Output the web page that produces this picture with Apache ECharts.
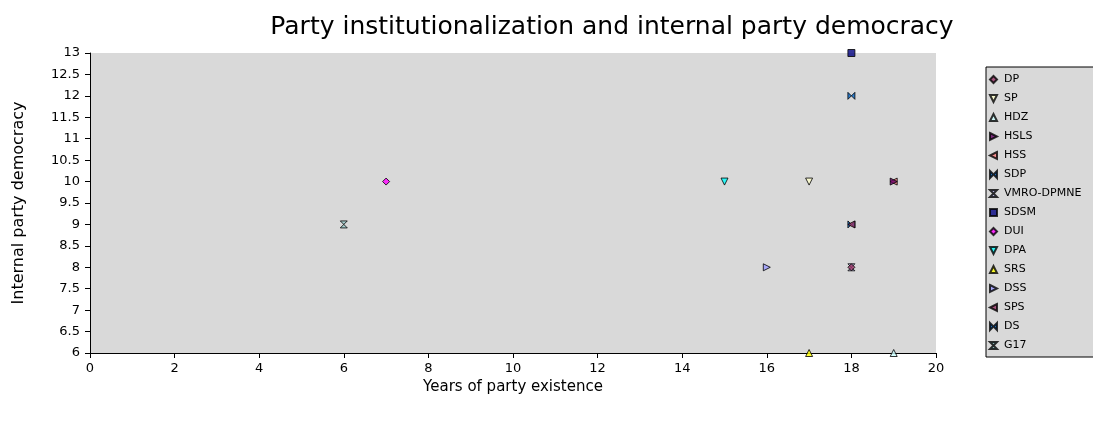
<!DOCTYPE html>
<html>
<head>
<meta charset="utf-8">
<script src="https://cdn.jsdelivr.net/npm/echarts@6/dist/echarts.min.js"></script>
<style>
html,body{margin:0;padding:0;background:#fff;}
#chart{width:1093px;height:425px;}
</style>
</head>
<body>
<div id="chart"></div>
<script>
// Data
var parties   = ['DP','SP','HDZ','HSLS','HSS','SDP','VMRO-DPMNE','SDSM','DUI','DPA','SRS','DSS','SPS','DS','G17'];
var years     = [18, 17, 19, 19, 19, 18, 18, 18, 7, 15, 17, 16, 18, 18, 6];
var democracy = [8, 10, 6, 10, 10, 12, 8, 13, 10, 10, 6, 8, 9, 9, 9];
var xTicks = [0, 2, 4, 6, 8, 10, 12, 14, 16, 18, 20];
var yTicks = [6, 6.5, 7, 7.5, 8, 8.5, 9, 9.5, 10, 10.5, 11, 11.5, 12, 12.5, 13];

// Styles
var FONT = 'DejaVu Sans, Verdana, sans-serif';
var P_DOWN = 'path://M0,0L10,0L5,10Z';
var P_UP = 'path://M0,10L5,0L10,10Z';
var P_RIGHT = 'path://M0,0L10,5L0,10Z';
var P_LEFT = 'path://M10,0L0,5L10,10Z';
var P_BOW = 'path://M0,0L5,5L0,10ZM10,0L5,5L10,10Z';
var P_HOUR = 'path://M0,0L10,0L5,5ZM0,10L10,10L5,5Z';
var symbols = ['diamond', P_DOWN, P_UP, P_RIGHT, P_LEFT, P_BOW, P_HOUR, 'rect', 'diamond', P_DOWN, P_UP, P_RIGHT, P_LEFT, P_BOW, P_HOUR];
var colors = ['#993366','#FFFFCC','#CCFFFF','#660066','#FF8080','#0066CC','#CCCCFF','#000080','#FF00FF','#00FFFF','#FFFF00','#9999FF','#993366','#0066CC','#99CCCC'];
var zs = [5, 3, 3, 5, 3, 3, 3, 3, 3, 3, 3, 3, 5, 3, 3];

var series = parties.map(function(name, i){
  return {
    name: name,
    type: 'scatter',
    symbol: symbols[i],
    symbolSize: 7,
    itemStyle: {color: colors[i], borderColor: '#000', borderWidth: 1},
    data: [[years[i], democracy[i]]],
    z: zs[i]
  };
});

var chart = echarts.init(document.getElementById('chart'));
chart.setOption({
  animation: false,
  title: {
    text: 'Party institutionalization and internal party democracy',
    left: 607, top: 10, textAlign: 'center',
    textStyle: {fontFamily: FONT, fontSize: 25, fontWeight: 'normal', color: '#000'}
  },
  grid: {left: 90, right: 157, top: 53, bottom: 72, show: true, backgroundColor: '#d9d9d9', borderWidth: 0},
  xAxis: {
    type: 'value', min: xTicks[0], max: xTicks[xTicks.length-1], interval: 2,
    name: 'Years of party existence', nameLocation: 'middle', nameGap: 20,
    nameTextStyle: {fontFamily: FONT, fontSize: 15, color: '#000'},
    axisLine: {show: true, onZero: false, lineStyle: {color: '#000', width: 1}},
    axisTick: {show: true, length: 5, lineStyle: {color: '#000'}},
    axisLabel: {fontFamily: FONT, fontSize: 13, color: '#000', margin: 9},
    splitLine: {show: false}
  },
  yAxis: {
    type: 'value', min: yTicks[0], max: yTicks[yTicks.length-1], interval: 0.5,
    name: 'Internal party democracy', nameLocation: 'middle', nameGap: 63, nameRotate: 90,
    nameTextStyle: {fontFamily: FONT, fontSize: 16, color: '#000'},
    axisLine: {show: true, onZero: false, lineStyle: {color: '#000', width: 1}},
    axisTick: {show: true, length: 5, lineStyle: {color: '#000'}},
    axisLabel: {fontFamily: FONT, fontSize: 13, color: '#000', margin: 10},
    splitLine: {show: false}
  },
  legend: {
    orient: 'vertical', left: 986, top: 67, width: 106,
    backgroundColor: '#d9d9d9', borderColor: '#000', borderWidth: 1,
    padding: [6, 16, 5, 3],
    itemWidth: 7, itemHeight: 7, itemGap: 6,
    textStyle: {fontFamily: FONT, fontSize: 11, color: '#000', lineHeight: 13, padding: [0,0,0,2]},
    data: parties
  },
  series: series
});
</script>
</body>
</html>
